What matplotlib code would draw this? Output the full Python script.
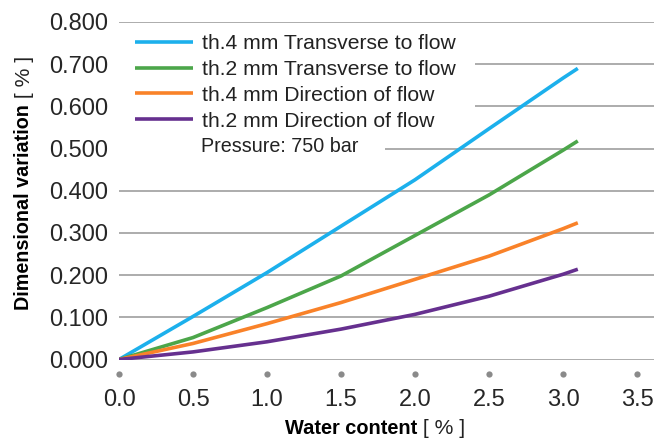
import matplotlib
matplotlib.use("Agg")
import matplotlib.pyplot as plt
import matplotlib.transforms as mtransforms
from matplotlib.patches import Rectangle

plt.rcParams['font.family'] = ['Liberation Sans', 'DejaVu Sans']

# ---- data ----
water = [0.0, 0.5, 1.0, 1.5, 2.0, 2.5, 3.0, 3.1]
th4_transverse = [0.0, 0.102, 0.206, 0.316, 0.426, 0.547, 0.667, 0.690]
th2_transverse = [0.0, 0.052, 0.123, 0.198, 0.294, 0.390, 0.496, 0.518]
th4_direction = [0.0, 0.038, 0.085, 0.135, 0.190, 0.245, 0.310, 0.324]
th2_direction = [0.0, 0.018, 0.042, 0.072, 0.107, 0.150, 0.202, 0.214]
series_labels = ["th.4 mm Transverse to flow", "th.2 mm Transverse to flow",
                 "th.4 mm Direction of flow", "th.2 mm Direction of flow"]
note = "Pressure: 750 bar"
x_ticks = [0.0, 0.5, 1.0, 1.5, 2.0, 2.5, 3.0, 3.5]
y_ticks = [0.0, 0.1, 0.2, 0.3, 0.4, 0.5, 0.6, 0.7, 0.8]
xlabel_bold, xlabel_rest = "Water content", " [ % ]"
ylabel_bold, ylabel_rest = "Dimensional variation", " [ % ]"

colors = ["#1cb0ec", "#4ca64a", "#f98229", "#66308f"]

W, H = 670, 438
fig = plt.figure(figsize=(W / 100, H / 100), dpi=100)
AX_L, AX_R, AX_T, AX_B = 119, 654, 22, 359.5
AW, AH = AX_R - AX_L, AX_B - AX_T
ax = fig.add_axes([AX_L / W, 1 - AX_B / H, AW / W, AH / H])
ax.set_xlim(0, AW / 148)
ax.set_ylim(0, 0.8)


def ax_px(xp, yp):
    """figure pixel (from top-left) -> axes fraction"""
    return (xp - AX_L) / AW, 1 - (yp - AX_T) / AH


for s in ax.spines.values():
    s.set_visible(False)
ax.set_yticks(y_ticks)
ax.set_yticklabels([f"{v:.3f}" for v in y_ticks])
ax.set_xticks(x_ticks)
ax.set_xticklabels([f"{v:.1f}" for v in x_ticks])
ax.tick_params(axis='y', length=0, pad=8, labelsize=17, labelcolor='#262626')
ax.tick_params(axis='x', length=0, pad=21, labelsize=17, labelcolor='#262626')
ax.yaxis.grid(True, color='#a6a6a6', lw=1.3, zorder=0.5)
ax.set_axisbelow(True)

# white backgrounds behind legend and note (cover the gridlines)
for (x0p, y0p, x1p, y1p) in [(AX_L, 29, 475, 130), (AX_L, 134, 385, 158)]:
    ax0, ay1 = ax_px(x0p, y0p)
    ax1, ay0 = ax_px(x1p, y1p)
    ax.add_patch(Rectangle((ax0, ay0), ax1 - ax0, ay1 - ay0, transform=ax.transAxes,
                           facecolor='white', edgecolor='none', zorder=1))

# dots as x tick marks
trans = mtransforms.blended_transform_factory(ax.transData, ax.transAxes)
ax.plot(x_ticks, [-14.5 / AH] * len(x_ticks), 'o', color='#8a8a8a', ms=4.5,
        transform=trans, clip_on=False, mec='none')

for ys, c, lab in zip([th4_transverse, th2_transverse, th4_direction, th2_direction],
                      colors, series_labels):
    ax.plot(water, ys, color=c, lw=2.6, label=lab, solid_capstyle='butt', zorder=2)

leg_fs = 15.2
pad_px = 0.3 * leg_fs * 100 / 72
leg = ax.legend(loc='upper left',
                bbox_to_anchor=ax_px(135 - pad_px, 28),
                frameon=False, fontsize=leg_fs, handlelength=2.75, handletextpad=0.41,
                labelspacing=0.32, borderpad=0.3, borderaxespad=0)
for t in leg.get_texts():
    t.set_color('#222222')

nx, ny = ax_px(201, 146)
ax.text(nx, ny, note, transform=ax.transAxes,
        fontsize=14.2, color='#222222', va='center', ha='left', zorder=3)

# axis labels with mixed weights
fig.canvas.draw()
r = fig.canvas.get_renderer()
xb = fig.text(0, 0, xlabel_bold, fontsize=14.4, fontweight='bold', ha='left', va='center')
xr = fig.text(0, 0, xlabel_rest, fontsize=15.2, ha='left', va='center', color='#222222')
wb = xb.get_window_extent(r).width
wr = xr.get_window_extent(r).width
cx, cy = 375, H - 428
x0 = cx - (wb + wr) / 2
xb.set_position((x0 / W, cy / H))
xr.set_position(((x0 + wb) / W, cy / H))

yb = fig.text(0, 0, ylabel_bold, fontsize=14.2, fontweight='bold', rotation=90,
              ha='center', va='bottom')
yr = fig.text(0, 0, ylabel_rest, fontsize=15.2, rotation=90, ha='center', va='bottom',
              color='#222222')
hb = yb.get_window_extent(r).height
hr = yr.get_window_extent(r).height
ccx, ccy = 24, H - 183
y0 = ccy - (hb + hr) / 2
yb.set_position((ccx / W, y0 / H))
yr.set_position((ccx / W, (y0 + hb) / H))

fig.savefig("out.png", dpi=100)
